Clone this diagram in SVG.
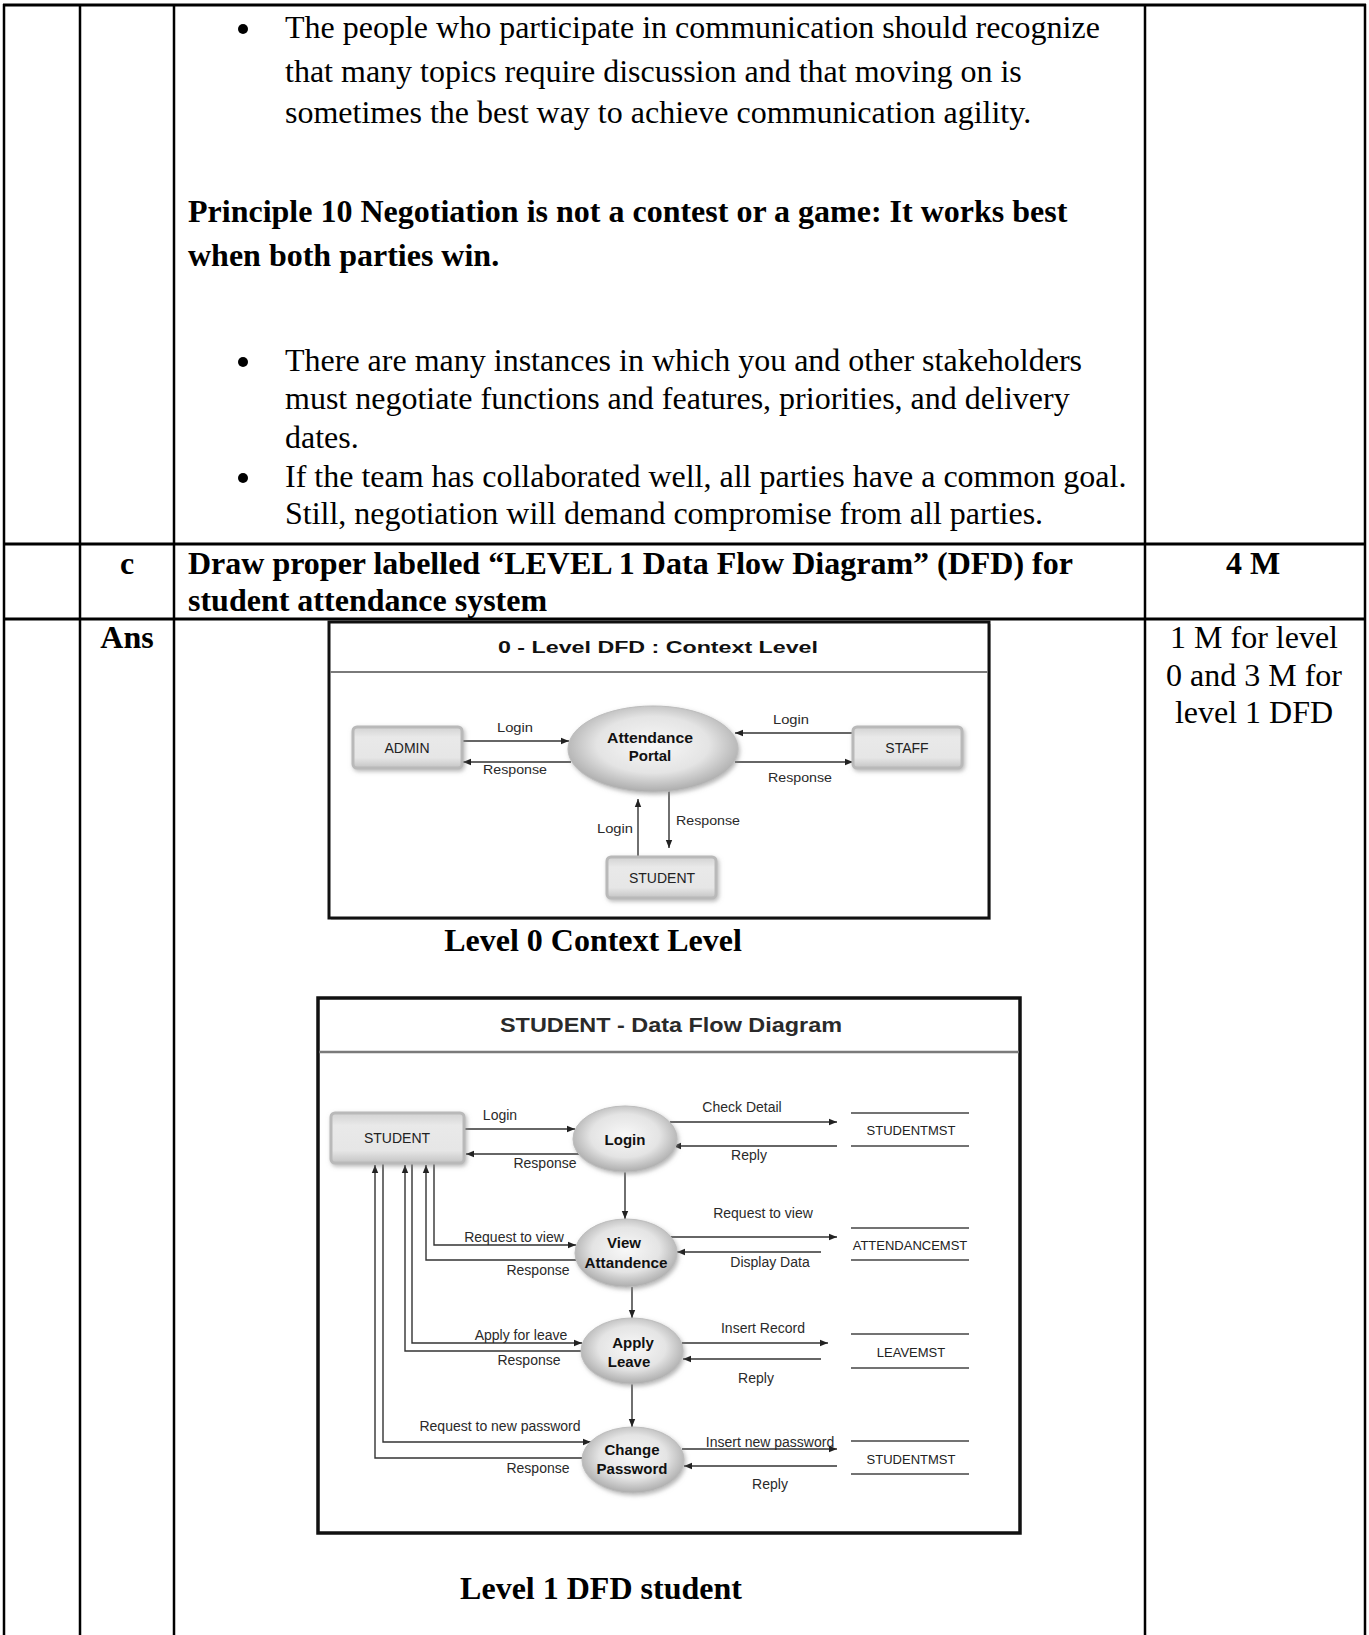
<svg xmlns="http://www.w3.org/2000/svg" width="1369" height="1635" viewBox="0 0 1369 1635">
<style>
.body{font-family:"Liberation Serif","Times New Roman",serif;font-size:32px;fill:#000}
.bold{font-weight:bold}
.tl{stroke:#000;stroke-width:2.5;fill:none}
.th{stroke:#000;stroke-width:3;fill:none}
.frame{fill:#fff;stroke:#111;stroke-width:3}
.div{stroke:#7a7a7a;stroke-width:2}
.dt{font-family:"Liberation Sans",Arial,sans-serif;fill:#2a2a2a}
.ttl{font-size:16px;font-weight:bold;fill:#111}
.lbl{font-size:14px;text-anchor:middle}
.lbl0{font-size:13px;text-anchor:middle}
.ent{font-size:14px;text-anchor:middle;fill:#222}
.proc{font-size:15px;font-weight:bold;text-anchor:middle;fill:#111}
.ds{font-size:13px;text-anchor:middle;fill:#222}
.conn{stroke:#333;stroke-width:1.4;fill:none}
.arr{marker-end:url(#ah)}
.box{fill:url(#boxg);stroke:#b9b9b9;stroke-width:3;filter:url(#sh)}
.ell{fill:url(#ellg);stroke:#bdbdbd;stroke-width:1;filter:url(#sh)}
.store{stroke:#444;stroke-width:1.5}
</style>
<defs>
<marker id="ah" viewBox="0 0 10 10" refX="10" refY="5" markerWidth="9" markerHeight="8" markerUnits="userSpaceOnUse" orient="auto">
<path d="M0,1 L10,5 L0,9 z" fill="#222"/>
</marker>
<linearGradient id="boxg" x1="0" y1="0" x2="0" y2="1">
<stop offset="0" stop-color="#d2d2d2"/>
<stop offset="0.25" stop-color="#e9e9e9"/>
<stop offset="0.75" stop-color="#e6e6e6"/>
<stop offset="1" stop-color="#c4c4c4"/>
</linearGradient>
<radialGradient id="ellg" cx="0.5" cy="0.45" r="0.55">
<stop offset="0" stop-color="#f8f8f8"/>
<stop offset="0.6" stop-color="#e4e4e4"/>
<stop offset="1" stop-color="#acacac"/>
</radialGradient>
<filter id="sh" x="-20%" y="-20%" width="140%" height="150%">
<feDropShadow dx="1.5" dy="2" stdDeviation="2" flood-color="#888" flood-opacity="0.6"/>
</filter>
</defs>

<!-- table -->
<g id="table">
<line class="th" x1="3" y1="5" x2="1366" y2="5"/>
<line class="th" x1="3" y1="544" x2="1366" y2="544"/>
<line class="th" x1="3" y1="619" x2="1366" y2="619"/>
<line class="tl" x1="4" y1="4" x2="4" y2="1635"/>
<line class="tl" x1="80" y1="4" x2="80" y2="1635"/>
<line class="tl" x1="174" y1="4" x2="174" y2="1635"/>
<line class="tl" x1="1145" y1="4" x2="1145" y2="1635"/>
<line class="tl" x1="1365" y1="4" x2="1365" y2="1635"/>
</g>

<g id="body-text">
<circle cx="243" cy="29" r="5"/>
<text class="body" x="285" y="38">The people who participate in communication should recognize</text>
<text class="body" x="285" y="82">that many topics require discussion and that moving on is</text>
<text class="body" x="285" y="123">sometimes the best way to achieve communication agility.</text>
<text class="body bold" x="188" y="222">Principle 10 Negotiation is not a contest or a game: It works best</text>
<text class="body bold" x="188" y="266">when both parties win.</text>
<circle cx="243" cy="362" r="5"/>
<text class="body" x="285" y="371">There are many instances in which you and other stakeholders</text>
<text class="body" x="285" y="409">must negotiate functions and features, priorities, and delivery</text>
<text class="body" x="285" y="448">dates.</text>
<circle cx="243" cy="478" r="5"/>
<text class="body" x="285" y="487">If the team has collaborated well, all parties have a common goal.</text>
<text class="body" x="285" y="524">Still, negotiation will demand compromise from all parties.</text>
<text class="body bold" x="127" y="574" text-anchor="middle">c</text>
<text class="body bold" x="188" y="574">Draw proper labelled “LEVEL 1 Data Flow Diagram” (DFD) for</text>
<text class="body bold" x="188" y="611">student attendance system</text>
<text class="body bold" x="1253" y="574" text-anchor="middle">4 M</text>
<text class="body bold" x="127" y="648" text-anchor="middle">Ans</text>
<text class="body" x="1254" y="648" text-anchor="middle">1 M for level</text>
<text class="body" x="1254" y="686" text-anchor="middle">0 and 3 M for</text>
<text class="body" x="1254" y="723" text-anchor="middle">level 1 DFD</text>
<text class="body bold" x="593" y="951" text-anchor="middle">Level 0 Context Level</text>
<text class="body bold" x="601" y="1599" text-anchor="middle">Level 1 DFD student</text>
</g>

<!-- Level 0 diagram -->
<g id="level0-frame">
<rect x="331" y="624" width="660" height="296" fill="#999" opacity="0.5"/>
<rect class="frame" x="329" y="622" width="660" height="296"/>
<line class="div" x1="330" y1="672" x2="988" y2="672"/>
<text class="dt ttl" x="498" y="653" textLength="320" lengthAdjust="spacingAndGlyphs">0 - Level DFD : Context Level</text>
</g>
<g id="l0-connectors">
<path class="conn arr" d="M462,741 H569"/>
<path class="conn arr" d="M571,762 H463"/>
<path class="conn arr" d="M853,733 H735"/>
<path class="conn arr" d="M735,762 H853"/>
<path class="conn arr" d="M638,857 V799"/>
<path class="conn arr" d="M669,791 V848"/>
<text class="dt lbl0" x="515" y="732" textLength="36" lengthAdjust="spacingAndGlyphs">Login</text>
<text class="dt lbl0" x="515" y="774" textLength="64" lengthAdjust="spacingAndGlyphs">Response</text>
<text class="dt lbl0" x="791" y="724" textLength="36" lengthAdjust="spacingAndGlyphs">Login</text>
<text class="dt lbl0" x="800" y="782" textLength="64" lengthAdjust="spacingAndGlyphs">Response</text>
<text class="dt lbl0" x="615" y="833" textLength="36" lengthAdjust="spacingAndGlyphs">Login</text>
<text class="dt lbl0" x="708" y="825" textLength="64" lengthAdjust="spacingAndGlyphs">Response</text>
</g>
<g id="l0-admin">
<rect class="box" x="353" y="727" width="109" height="41" rx="4"/>
<text class="dt ent" x="407" y="753">ADMIN</text>
</g>
<g id="l0-portal">
<ellipse class="ell" cx="653" cy="749" rx="85" ry="43"/>
<text class="dt proc" x="650" y="743" textLength="86" lengthAdjust="spacingAndGlyphs">Attendance</text>
<text class="dt proc" x="650" y="761">Portal</text>
</g>
<g id="l0-staff">
<rect class="box" x="853" y="727" width="109" height="41" rx="4"/>
<text class="dt ent" x="907" y="753">STAFF</text>
</g>
<g id="l0-student">
<rect class="box" x="607" y="857" width="109" height="41" rx="4"/>
<text class="dt ent" x="662" y="883">STUDENT</text>
</g>

<!-- Level 1 diagram -->
<g id="level1-frame">
<rect class="frame" x="318" y="998" width="702" height="535" style="stroke-width:3.5"/>
<line class="div" x1="319" y1="1052" x2="1019" y2="1052" style="stroke-width:2.5"/>
<text class="dt" x="500" y="1032" font-size="20" font-weight="bold" fill="#111" textLength="342" lengthAdjust="spacingAndGlyphs">STUDENT - Data Flow Diagram</text>
</g>
<g id="l1-connectors">
<path class="conn arr" d="M464,1129 H575"/>
<path class="conn arr" d="M579,1154 H466"/>
<path class="conn arr" d="M670,1122 H837"/>
<path class="conn arr" d="M837,1146 H673"/>
<path class="conn arr" d="M625,1172 V1219"/>
<path class="conn arr" d="M434,1163 V1245 H576"/>
<path class="conn arr" d="M576,1260 H426 V1165"/>
<path class="conn arr" d="M669,1237 H837"/>
<path class="conn arr" d="M821,1252 H677"/>
<path class="conn arr" d="M632,1287 V1318"/>
<path class="conn arr" d="M412,1163 V1343 H582"/>
<path class="conn arr" d="M582,1351 H405 V1165"/>
<path class="conn arr" d="M682,1343 H828"/>
<path class="conn arr" d="M821,1359 H683"/>
<path class="conn arr" d="M632,1384 V1427"/>
<path class="conn arr" d="M383,1163 V1442 H591"/>
<path class="conn arr" d="M583,1458 H375 V1165"/>
<path class="conn arr" d="M682,1449 H837"/>
<path class="conn arr" d="M837,1466 H684"/>
<text class="dt lbl" x="500" y="1120">Login</text>
<text class="dt lbl" x="545" y="1168">Response</text>
<text class="dt lbl" x="742" y="1112">Check Detail</text>
<text class="dt lbl" x="749" y="1160">Reply</text>
<text class="dt lbl" x="514" y="1242">Request to view</text>
<text class="dt lbl" x="538" y="1275">Response</text>
<text class="dt lbl" x="763" y="1218">Request to view</text>
<text class="dt lbl" x="770" y="1267">Display Data</text>
<text class="dt lbl" x="521" y="1340">Apply for leave</text>
<text class="dt lbl" x="529" y="1365">Response</text>
<text class="dt lbl" x="763" y="1333">Insert Record</text>
<text class="dt lbl" x="756" y="1383">Reply</text>
<text class="dt lbl" x="500" y="1431">Request to new password</text>
<text class="dt lbl" x="538" y="1473">Response</text>
<text class="dt lbl" x="770" y="1447">Insert new password</text>
<text class="dt lbl" x="770" y="1489">Reply</text>
</g>
<g id="l1-student">
<rect class="box" x="331" y="1113" width="133" height="50" rx="4"/>
<text class="dt ent" x="397" y="1143">STUDENT</text>
</g>
<g id="l1-login">
<ellipse class="ell" cx="625" cy="1139" rx="52" ry="33"/>
<text class="dt proc" x="625" y="1145" font-size="16">Login</text>
</g>
<g id="l1-view">
<ellipse class="ell" cx="626" cy="1253" rx="51" ry="34"/>
<text class="dt proc" x="624" y="1248">View</text>
<text class="dt proc" x="626" y="1268" textLength="83" lengthAdjust="spacingAndGlyphs">Attandence</text>
</g>
<g id="l1-apply">
<ellipse class="ell" cx="632" cy="1351" rx="51" ry="33"/>
<text class="dt proc" x="633" y="1348">Apply</text>
<text class="dt proc" x="629" y="1367">Leave</text>
</g>
<g id="l1-change">
<ellipse class="ell" cx="633" cy="1460" rx="51" ry="33"/>
<text class="dt proc" x="632" y="1455">Change</text>
<text class="dt proc" x="632" y="1474">Password</text>
</g>
<g id="ds-studentmst1">
<line class="store" x1="851" y1="1113" x2="969" y2="1113"/>
<line class="store" x1="851" y1="1146" x2="969" y2="1146"/>
<text class="dt ds" x="911" y="1135">STUDENTMST</text>
</g>
<g id="ds-attendancemst">
<line class="store" x1="851" y1="1228" x2="969" y2="1228"/>
<line class="store" x1="851" y1="1260" x2="969" y2="1260"/>
<text class="dt ds" x="910" y="1250">ATTENDANCEMST</text>
</g>
<g id="ds-leavemst">
<line class="store" x1="851" y1="1334" x2="969" y2="1334"/>
<line class="store" x1="851" y1="1368" x2="969" y2="1368"/>
<text class="dt ds" x="911" y="1357">LEAVEMST</text>
</g>
<g id="ds-studentmst2">
<line class="store" x1="851" y1="1441" x2="969" y2="1441"/>
<line class="store" x1="851" y1="1474" x2="969" y2="1474"/>
<text class="dt ds" x="911" y="1464">STUDENTMST</text>
</g>
</svg>
